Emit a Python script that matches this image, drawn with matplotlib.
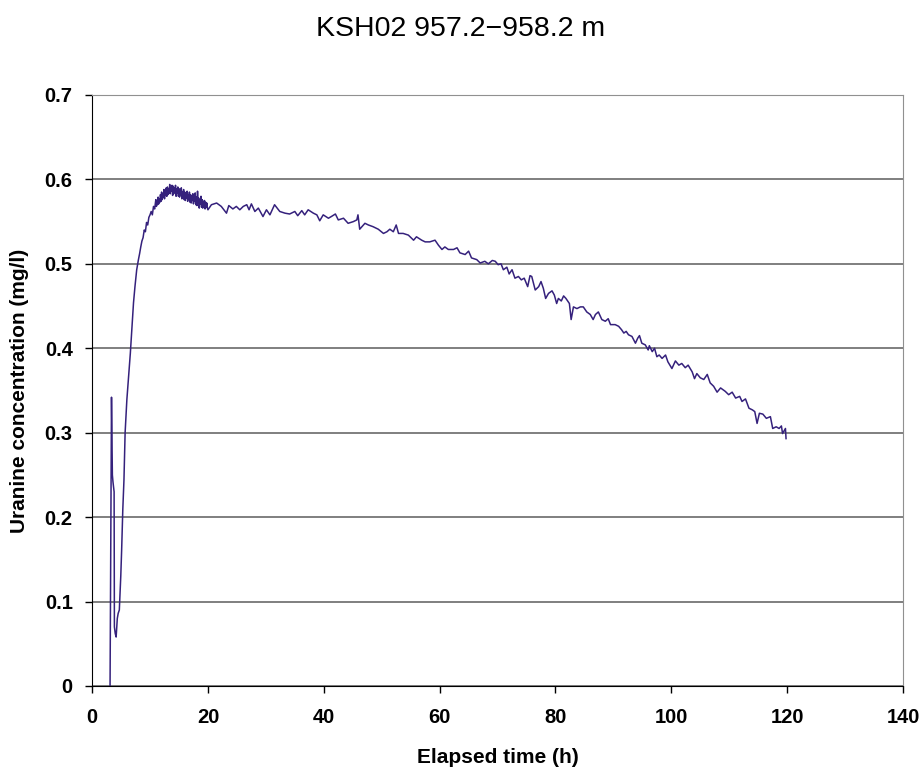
"""
Courbe de restitution de l'uranine, KSH02 957.2-958.2 m
"""

import matplotlib
matplotlib.use('Agg')
from matplotlib import pyplot as plt

plt.rcParams['font.family'] = ['Liberation Sans', 'DejaVu Sans']

# montee initiale (h, mg/l)
t_debut = [3.1, 3.35, 3.5, 3.6, 3.7, 3.8, 3.85, 4.0, 4.15, 4.35, 4.5, 4.7, 4.95,
           5.1, 5.3, 5.5, 5.7, 6.0, 6.3, 6.6, 6.85, 7.15, 7.4, 7.7, 8.0,
           8.2, 8.4, 8.6, 8.8, 9.0, 9.2, 9.4, 9.6, 9.8, 10.0,
           10.2, 10.4, 10.6, 10.8]
c_debut = [0.0, 0.342, 0.25, 0.242, 0.236, 0.23, 0.07, 0.062, 0.058, 0.08, 0.086,
           0.09, 0.13, 0.161, 0.209, 0.244, 0.30, 0.339, 0.366, 0.394, 0.422,
           0.454, 0.473, 0.493, 0.505,
           0.512, 0.520, 0.527, 0.531, 0.540, 0.538, 0.549, 0.546, 0.555, 0.558,
           0.562, 0.558, 0.568, 0.565]

# mesures rapprochees autour du pic (pas de 0.1 h, de 11.0 a 19.9 h)
t_pic = [round(11.0 + 0.1 * i, 1) for i in range(90)]
c_pic = [0.576, 0.568, 0.575, 0.570, 0.579, 0.571, 0.577, 0.573, 0.582, 0.574,
         0.585, 0.576, 0.583, 0.579, 0.588, 0.577, 0.586, 0.581, 0.590, 0.580,
         0.591, 0.582, 0.589, 0.584, 0.594, 0.583, 0.590, 0.586, 0.593, 0.581,
         0.592, 0.583, 0.590, 0.585, 0.593, 0.580, 0.589, 0.584, 0.591, 0.580,
         0.589, 0.579, 0.586, 0.582, 0.590, 0.577, 0.585, 0.581, 0.588, 0.576,
         0.585, 0.575, 0.583, 0.578, 0.586, 0.574, 0.582, 0.577, 0.585, 0.573,
         0.582, 0.572, 0.580, 0.575, 0.583, 0.571, 0.579, 0.574, 0.584, 0.570,
         0.579, 0.569, 0.586, 0.572, 0.578, 0.566, 0.576, 0.571, 0.580, 0.567,
         0.576, 0.566, 0.574, 0.569, 0.575, 0.565, 0.573, 0.567, 0.572, 0.566]

# descente lente
t_fin = [20.0, 20.6, 21.5, 22.3, 23.2, 23.6, 24.3, 24.9, 25.5, 26.1,
         26.7, 27.1, 27.5, 28.1, 28.7, 29.5, 30.1, 30.7, 31.5, 32.4,
         33.3, 34.1, 35.0, 35.5, 36.2, 36.7, 37.3, 38.2, 38.8, 39.3,
         39.9, 40.8, 41.3, 42.0, 42.5, 43.4, 44.2, 45.1, 45.7, 45.9,
         46.2, 47.1, 47.7, 48.5, 49.4, 50.3, 50.9, 51.4, 52.0, 52.5,
         52.9, 53.7, 54.6, 55.5, 56.0, 56.9, 57.5, 58.3, 59.2, 59.8,
         60.4, 60.9, 61.5, 62.4, 63.0, 63.5, 64.4, 65.0, 65.5, 66.4,
         67.0, 67.8, 68.4, 69.1, 69.6, 70.1, 70.6, 71.0, 71.6, 72.0,
         72.5, 73.0, 73.6, 74.1, 74.6, 75.2, 75.6, 75.9, 76.5, 77.1,
         77.5, 77.9, 78.3, 78.8, 79.4, 79.8, 80.2, 80.5, 81.0, 81.4,
         81.8, 82.4, 82.7, 83.1, 83.7, 84.3, 84.8, 85.4, 86.0, 86.5,
         86.9, 87.4, 88.0, 88.6, 89.1, 89.5, 90.3, 90.9, 91.4, 91.8,
         92.2, 92.6, 93.2, 93.8, 94.2, 94.5, 94.9, 95.5, 96.0, 96.2,
         96.7, 97.1, 97.5, 97.9, 98.4, 99.0, 99.4, 100.1, 100.7, 101.3,
         101.8, 102.4, 102.9, 103.6, 104.0, 104.4, 105.0, 105.6, 106.2, 106.7,
         107.3, 107.9, 108.5, 109.3, 109.9, 110.5, 111.1, 111.8, 112.2, 112.8,
         113.4, 114.0, 114.4, 114.8, 115.2, 115.8, 116.4, 117.1, 117.5, 118.1,
         118.6, 119.0, 119.2, 119.7, 119.8]
c_fin = [0.564, 0.570, 0.572, 0.568, 0.560, 0.569, 0.565, 0.568, 0.564, 0.568,
         0.570, 0.564, 0.571, 0.562, 0.566, 0.556, 0.564, 0.558, 0.570, 0.562,
         0.560, 0.559, 0.562, 0.557, 0.563, 0.558, 0.564, 0.560, 0.558, 0.551,
         0.558, 0.554, 0.556, 0.559, 0.552, 0.554, 0.548, 0.550, 0.552, 0.558,
         0.541, 0.548, 0.546, 0.544, 0.541, 0.536, 0.538, 0.541, 0.538, 0.546,
         0.536, 0.536, 0.534, 0.528, 0.532, 0.528, 0.526, 0.526, 0.528, 0.522,
         0.517, 0.520, 0.517, 0.517, 0.519, 0.513, 0.511, 0.515, 0.507, 0.505,
         0.501, 0.503, 0.500, 0.504, 0.503, 0.499, 0.500, 0.493, 0.496, 0.488,
         0.493, 0.483, 0.485, 0.481, 0.483, 0.473, 0.486, 0.485, 0.469, 0.473,
         0.479, 0.471, 0.459, 0.465, 0.468, 0.463, 0.453, 0.459, 0.456, 0.462,
         0.459, 0.453, 0.434, 0.449, 0.447, 0.449, 0.449, 0.443, 0.440, 0.434,
         0.440, 0.443, 0.434, 0.432, 0.435, 0.428, 0.428, 0.426, 0.422, 0.418,
         0.420, 0.416, 0.414, 0.406, 0.412, 0.415, 0.406, 0.404, 0.398, 0.403,
         0.396, 0.400, 0.390, 0.392, 0.388, 0.392, 0.384, 0.376, 0.385, 0.380,
         0.382, 0.377, 0.380, 0.372, 0.364, 0.370, 0.365, 0.363, 0.369, 0.359,
         0.355, 0.348, 0.353, 0.349, 0.345, 0.348, 0.341, 0.343, 0.337, 0.340,
         0.329, 0.327, 0.325, 0.311, 0.323, 0.322, 0.317, 0.319, 0.305, 0.307,
         0.305, 0.308, 0.299, 0.305, 0.293]

temps = t_debut + t_pic + t_fin
conc = c_debut + c_pic + c_fin

fig = plt.figure(figsize=(9.21, 7.72), dpi=100)
ax = fig.add_axes([0.1, 0.1114, 0.8805, 0.7656])

ax.plot(temps, conc, color='#35217c', linewidth=1.1)

ax.set_xlim(0, 140)
ax.set_ylim(0, 0.7)
ax.set_xticks(range(0, 141, 20))
ax.set_yticks([i / 10 for i in range(8)])
ax.set_yticklabels(['0'] + ['%.1f' % (i / 10) for i in range(1, 8)])
ax.yaxis.grid(True, color='#6a6a6a', linewidth=1.2)
ax.set_axisbelow(True)

for s in ['top', 'right']:
    ax.spines[s].set_color('#909090')
ax.spines['left'].set_color('black')
ax.spines['bottom'].set_color('black')
ax.tick_params(direction='out', length=5, width=1, labelsize=14.5)
ax.tick_params(axis='x', pad=11)
ax.tick_params(axis='y', pad=9)
for lab in ax.get_xticklabels() + ax.get_yticklabels():
    lab.set_fontweight('bold')

ax.set_xlabel('Elapsed time (h)', fontsize=15, fontweight='bold')
ax.set_ylabel('Uranine concentration (mg/l)', fontsize=15, fontweight='bold')
ax.xaxis.set_label_coords(0.5, -0.105)
ax.yaxis.set_label_coords(-0.078, 0.5)
fig.text(0.5, 0.963, 'KSH02 957.2\u2212958.2 m', ha='center', va='center', fontsize=20.5)

fig.savefig('out.png', dpi=100)
